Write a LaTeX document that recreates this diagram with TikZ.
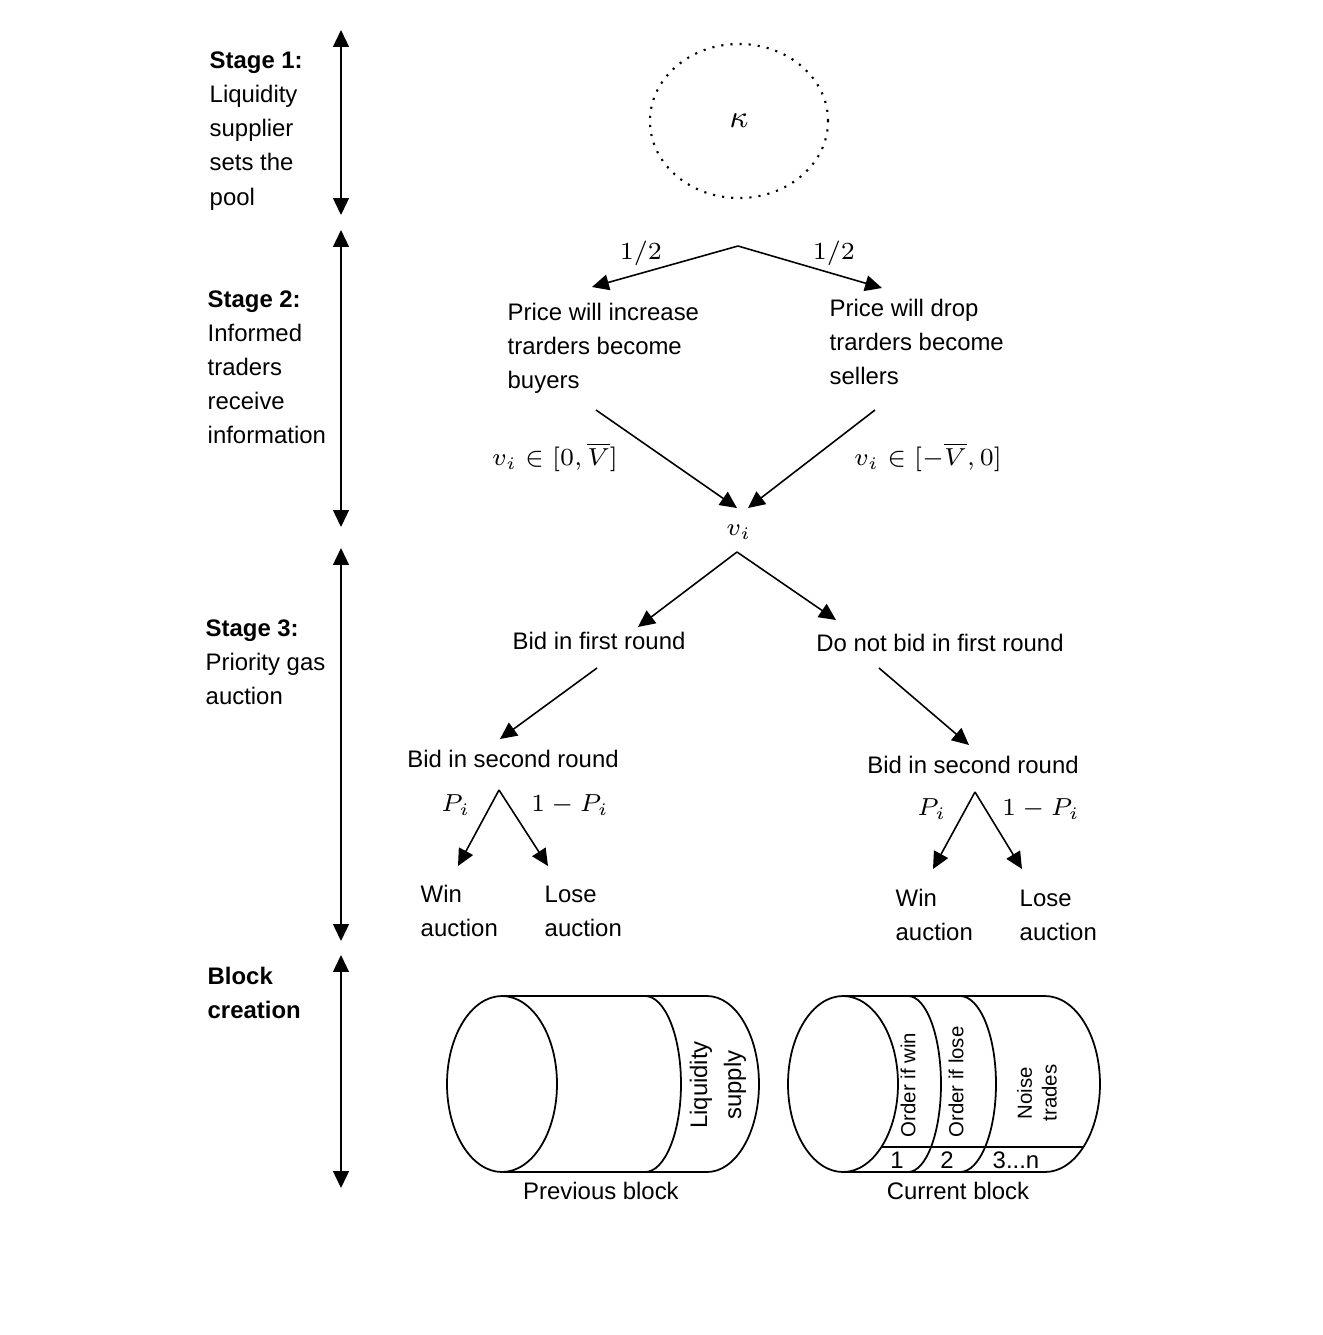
\documentclass[tikz,border=0pt]{standalone}
\usepackage{amsmath}
\usepackage{fontspec}
\setmainfont{Liberation Sans}
\usetikzlibrary{arrows.meta}
\usetikzlibrary{shapes.geometric}

\begin{document}
\begin{tikzpicture}[x=0.01cm,y=0.01cm,
	font=\fontsize{6.8}{9.7}\selectfont,
	arr/.style={-{Triangle[length=4.8pt,width=4.5pt]},line width=0.45pt},
	darr/.style={{Triangle[length=4.8pt,width=4.5pt]}-{Triangle[length=4.8pt,width=4.5pt]},line width=0.45pt},
	txt/.style={align=left,anchor=west,inner sep=0pt},
	mth/.style={font=\fontsize{7.5}{10}\selectfont,inner sep=0pt},
	small/.style={font=\fontsize{5.8}{7}\selectfont,inner sep=0pt}]
	\useasboundingbox (0,0) rectangle (1323,-1335);
	\node[txt] (st1) at (209,-131) {\textbf{Stage 1:}\\Liquidity\\supplier\\sets the\\pool};
	\node[txt] (st2) at (207,-367) {\textbf{Stage 2:}\\Informed\\traders\\receive\\information};
	\node[txt] (st3) at (205,-662) {\textbf{Stage 3:}\\Priority gas\\auction};
	\node[txt] (st4) at (207,-993) {\textbf{Block}\\\textbf{creation}};
	\coordinate (t1) at (341,-30);
	\coordinate (b1) at (341,-215);
	\coordinate (t2) at (341,-230);
	\coordinate (b2) at (341,-527);
	\coordinate (t3) at (341,-548);
	\coordinate (b3) at (341,-941);
	\coordinate (t4) at (341,-955);
	\coordinate (b4) at (341,-1188);
	\draw[darr] (t1) -- (b1);
	\draw[darr] (t2) -- (b2);
	\draw[darr] (t3) -- (b3);
	\draw[darr] (t4) -- (b4);

	\node[draw,dotted,line width=0.6pt,ellipse,minimum width=1.78cm,minimum height=1.54cm,mth,font=\fontsize{9}{10}\selectfont] (pool) at (739,-121) {$\kappa$};

	\coordinate (r2) at (738,-246);
	\coordinate (up) at (592,-287);
	\coordinate (dn) at (882,-288);
	\draw[arr] (r2) -- (up);
	\draw[arr] (r2) -- (dn);
	\node[mth] (pu) at (641,-253) {$1/2$};
	\node[mth] (pd) at (834,-253) {$1/2$};
	\node[txt] (buy) at (507,-348) {Price will increase\\trarders become\\buyers};
	\node[txt] (sell) at (829,-342) {Price will drop\\trarders become\\sellers};
	\coordinate (buyend) at (596,-410);
	\coordinate (sellend) at (875,-410);
	\coordinate (vl) at (737,-508);
	\coordinate (vr) at (748,-508);
	\draw[arr] (buyend) -- (vl);
	\draw[arr] (sellend) -- (vr);
	\node[mth] (vbuy) at (555,-457) {$v_i\in[0,\overline{V}]$};
	\node[mth] (vsell) at (928,-457) {$v_i\in[-\overline{V},0]$};
	\node[mth] (v) at (739,-532) {$v_i$};

	\coordinate (r3) at (737,-552);
	\coordinate (bidend) at (638,-627);
	\coordinate (nobidend) at (836,-620);
	\draw[arr] (r3) -- (bidend);
	\draw[arr] (r3) -- (nobidend);
	\node (bid) at (599,-641) {Bid in first round};
	\node (nobid) at (940,-643) {Do not bid in first round};
	\coordinate (bidout) at (597,-668);
	\coordinate (bidin) at (500,-739);
	\coordinate (nobidout) at (879,-668);
	\coordinate (nobidin) at (969,-745);
	\draw[arr] (bidout) -- (bidin);
	\draw[arr] (nobidout) -- (nobidin);
	\node (secl) at (513,-759) {Bid in second round};
	\node (secr) at (973,-765) {Bid in second round};

	\coordinate (al) at (499,-790);
	\coordinate (alw) at (458,-866);
	\coordinate (all) at (548,-866);
	\draw[arr] (al) -- (alw);
	\draw[arr] (al) -- (all);
	\node[mth] (pl) at (456,-805) {$P_i$};
	\node[mth] (ql) at (570,-805) {$1-P_i$};
	\node[txt] (winl) at (420,-911) {Win\\auction};
	\node[txt] (losel) at (544,-911) {Lose\\auction};

	\coordinate (ar) at (975,-792);
	\coordinate (arw) at (933,-869);
	\coordinate (arl) at (1022,-869);
	\draw[arr] (ar) -- (arw);
	\draw[arr] (ar) -- (arl);
	\node[mth] (pr) at (932,-809) {$P_i$};
	\node[mth] (qr) at (1041,-809) {$1-P_i$};
	\node[txt] (winr) at (895,-915) {Win\\auction};
	\node[txt] (loser) at (1019,-915) {Lose\\auction};

	\draw[line width=0.5pt] (502,-1084) ellipse[x radius=55,y radius=88];
	\draw[line width=0.5pt] (502,-996) -- (707,-996) arc[start angle=90,end angle=-90,x radius=52,y radius=88] -- (502,-1172);
	\draw[line width=0.5pt] (645,-996) arc[start angle=90,end angle=-90,x radius=36,y radius=88];
	\node[rotate=90,align=center,inner sep=0pt] (liq) at (718,-1085) {Liquidity\\supply};
	\node (prev) at (601,-1191) {Previous block};

	\draw[line width=0.5pt] (843,-1084) ellipse[x radius=55,y radius=88];
	\draw[line width=0.5pt] (843,-996) -- (1045,-996) arc[start angle=90,end angle=-90,x radius=55,y radius=88] -- (843,-1172);
	\draw[line width=0.5pt] (908,-996) arc[start angle=90,end angle=-90,x radius=33,y radius=88];
	\draw[line width=0.5pt] (960,-996) arc[start angle=90,end angle=-90,x radius=36,y radius=88];
	\draw[line width=0.5pt] (881,-1147) -- (1083,-1147);
	\node[small,rotate=90] (win) at (908,-1085) {Order if win};
	\node[small,rotate=90] (lose) at (956,-1082) {Order if lose};
	\node[small,rotate=90,align=center] (noise) at (1037,-1093) {Noise\\trades};
	\node[inner sep=0pt] (n1) at (897,-1160) {1};
	\node[inner sep=0pt] (n2) at (947,-1160) {2};
	\node[inner sep=0pt] (n3) at (1016,-1160) {3...n};
	\node (cur) at (958,-1191) {Current block};
\end{tikzpicture}
\end{document}
